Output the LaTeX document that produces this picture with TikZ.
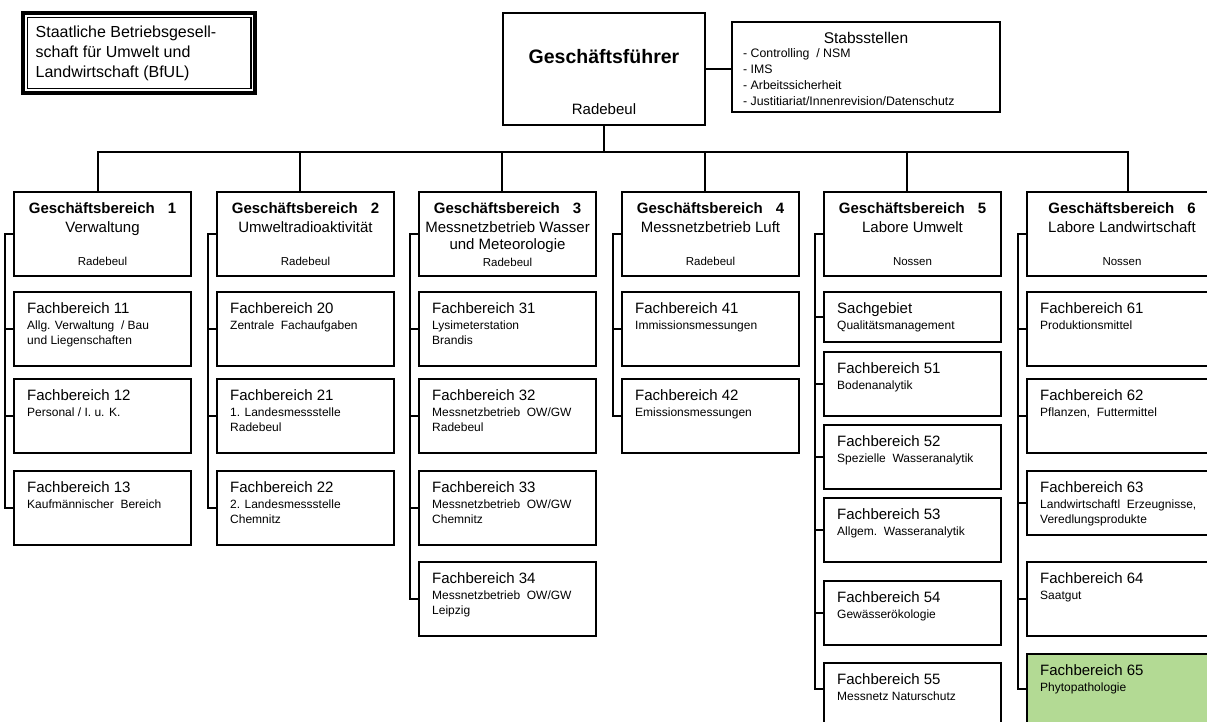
\documentclass[tikz,border=0pt]{standalone}
\usepackage{fontspec}
\setmainfont{Liberation Sans}
\definecolor{fbgreen}{RGB}{179,218,148}
\tikzset{
  box/.style={draw, line width=2pt, inner sep=0pt, outer sep=0pt, anchor=north west, fill=white},
  conn/.style={line width=2.2pt},
  fbt/.style={inner sep=0pt, font=\fontsize{15}{18}\selectfont},
  fbs/.style={inner sep=0pt, align=left, font=\fontsize{12}{15}\selectfont},
  gbt/.style={inner sep=0pt, font=\bfseries\fontsize{15}{18}\selectfont},
  gbm/.style={inner sep=0pt, font=\fontsize{15}{18}\selectfont},
  gbs/.style={inner sep=0pt, font=\fontsize{11.5}{14}\selectfont},
}
\newcommand\mkfb[8]{%
  \node[box, minimum width=#4pt, minimum height=#5pt, #8] (#1) at (#2,#3) {};
  \node[fbt, anchor=base west] (#1t) at ([shift={(13,21)}]#1.north west) {#6};
  \node[fbs, anchor=north west] (#1s) at ([shift={(13,28.5)}]#1.north west) {#7};
}
\newcommand\mkgb[5]{% name, x, w, number, place
  \node[box, minimum width=#3pt, minimum height=84pt] (#1) at (#2,192) {};
  \node[gbt, anchor=base] (#1t) at ([shift={(0,21.5)}]#1.north) {Geschäftsbereich\hspace{13pt}#4};
  \node[gbs, anchor=base] (#1p) at ([shift={(0,73)}]#1.north) {#5};
}
\begin{document}
\begin{tikzpicture}[x=1pt,y=-1pt]
\useasboundingbox (0,0) rectangle (1207,721);
\clip (0,0) rectangle (1207,721);

% top-left framed box
\node[draw, line width=4.3pt, inner sep=0pt, outer sep=0pt, anchor=north west,
      minimum width=232.2pt, minimum height=80pt] (bful) at (23,12.9) {};
\node[draw, line width=1.2pt, inner sep=0pt, outer sep=0pt, anchor=north west,
      minimum width=223.7pt, minimum height=71.4pt] (bfuli) at (27.3,17.2) {};
\node[inner sep=0pt, anchor=north west, align=left,
      font=\fontsize{16}{20}\selectfont] (bfult) at (35.5,26)
  {Staatliche Betriebsgesell-\\schaft für Umwelt und\\Landwirtschaft (BfUL)};

% Geschaeftsfuehrer
\node[box, minimum width=202pt, minimum height=112pt] (gf) at (503,13) {};
\node[inner sep=0pt, anchor=base, font=\bfseries\fontsize{19.5}{22}\selectfont] (gft) at ([shift={(0,50.8)}]gf.north) {Geschäftsführer};
\node[inner sep=0pt, anchor=base, font=\fontsize{15}{18}\selectfont] (gfp) at ([shift={(0,101.4)}]gf.north) {Radebeul};

% Stabsstellen
\node[box, minimum width=268pt, minimum height=90pt] (stab) at (732,22) {};
\node[inner sep=0pt, anchor=base, font=\fontsize{15.5}{18}\selectfont] (stabt) at ([shift={(0,21.6)}]stab.north) {Stabsstellen};
\node[inner sep=0pt, anchor=north west, align=left, font=\fontsize{12.3}{16}\selectfont] (stabl) at (743,48.2)
  {- Controlling\ \ / NSM\\- IMS\\- Arbeitssicherheit\\- Justitiariat/Innenrevision/Datenschutz};
\draw[conn] (gf.east) -- (gf.east -| stab.west);

% Geschaeftsbereiche
\mkgb{gb1}{14}{177}{1}{Radebeul}
\node[gbm, anchor=base] (gb1m) at ([shift={(0,40.5)}]gb1.north) {Verwaltung};
\mkgb{gb2}{217}{177}{2}{Radebeul}
\node[gbm, anchor=base] (gb2m) at ([shift={(0,40.5)}]gb2.north) {Umweltradioaktivität};
\node[box, minimum width=177pt, minimum height=84pt] (gb3) at (419,192) {};
\node[gbt, anchor=base] (gb3t) at ([shift={(0,21.5)}]gb3.north) {Geschäftsbereich\hspace{13pt}3};
\node[gbm, anchor=base] (gb3m) at ([shift={(0,40.5)}]gb3.north) {Messnetzbetrieb Wasser};
\node[gbm, anchor=base] (gb3n) at ([shift={(0,57.5)}]gb3.north) {und Meteorologie};
\node[gbs, anchor=base] (gb3p) at ([shift={(0,74)}]gb3.north) {Radebeul};
\mkgb{gb4}{622}{177}{4}{Radebeul}
\node[gbm, anchor=base] (gb4m) at ([shift={(0,40.5)}]gb4.north) {Messnetzbetrieb Luft};
\mkgb{gb5}{824}{177}{5}{Nossen}
\node[gbm, anchor=base] (gb5m) at ([shift={(0,40.5)}]gb5.north) {Labore Umwelt};
\mkgb{gb6}{1027}{190}{6}{Nossen}
\node[gbm, anchor=base] (gb6m) at ([shift={(0,40.5)}]gb6.north) {Labore Landwirtschaft};

% bus
\coordinate (d1) at (98,152);
\coordinate (d2) at (300,152);
\coordinate (d3) at (502,152);
\coordinate (d4) at (705,152);
\coordinate (d5) at (907,152);
\coordinate (d6) at (1128,152);
\draw[conn] (gf.south) -- (gf.south |- d1);
\draw[conn, line cap=rect] (d1) -- (d6);
\foreach \i in {1,...,6}{\draw[conn] (d\i) -- (d\i |- gb\i.north);}

% column 1
\mkfb{fb11}{14}{292}{177}{74}{Fachbereich 11}{Allg. Verwaltung\ \ / Bau\\und Liegenschaften}{}
\mkfb{fb12}{14}{379}{177}{74}{Fachbereich 12}{Personal / I. u. K.}{}
\mkfb{fb13}{14}{471}{177}{74}{Fachbereich 13}{Kaufmännischer\ \ Bereich}{}
% column 2
\mkfb{fb20}{217}{292}{177}{74}{Fachbereich 20}{Zentrale\ \ Fachaufgaben}{}
\mkfb{fb21}{217}{379}{177}{74}{Fachbereich 21}{1. Landesmessstelle\\Radebeul}{}
\mkfb{fb22}{217}{471}{177}{74}{Fachbereich 22}{2. Landesmessstelle\\Chemnitz}{}
% column 3
\mkfb{fb31}{419}{292}{177}{74}{Fachbereich 31}{Lysimeterstation\\Brandis}{}
\mkfb{fb32}{419}{379}{177}{74}{Fachbereich 32}{Messnetzbetrieb\ \ OW/GW\\Radebeul}{}
\mkfb{fb33}{419}{471}{177}{74}{Fachbereich 33}{Messnetzbetrieb\ \ OW/GW\\Chemnitz}{}
\mkfb{fb34}{419}{562}{177}{74}{Fachbereich 34}{Messnetzbetrieb\ \ OW/GW\\Leipzig}{}
% column 4
\mkfb{fb41}{622}{292}{177}{74}{Fachbereich 41}{Immissionsmessungen}{}
\mkfb{fb42}{622}{379}{177}{74}{Fachbereich 42}{Emissionsmessungen}{}
% column 5
\mkfb{sg5}{824}{292}{177}{50}{Sachgebiet}{Qualitätsmanagement}{}
\mkfb{fb51}{824}{352}{177}{64}{Fachbereich 51}{Bodenanalytik}{}
\mkfb{fb52}{824}{425}{177}{64}{Fachbereich 52}{Spezielle\ \ Wasseranalytik}{}
\mkfb{fb53}{824}{498}{177}{64}{Fachbereich 53}{Allgem.\ \ Wasseranalytik}{}
\mkfb{fb54}{824}{581}{177}{64}{Fachbereich 54}{Gewässerökologie}{}
\mkfb{fb55}{824}{663}{177}{80}{Fachbereich 55}{Messnetz Naturschutz}{}
% column 6
\mkfb{fb61}{1027}{292}{190}{74}{Fachbereich 61}{Produktionsmittel}{}
\mkfb{fb62}{1027}{379}{190}{74}{Fachbereich 62}{Pflanzen,\ \ Futtermittel}{}
\mkfb{fb63}{1027}{471}{190}{64}{Fachbereich 63}{Landwirtschaftl\ \ Erzeugnisse,\\Veredlungsprodukte}{}
\mkfb{fb64}{1027}{562}{190}{74}{Fachbereich 64}{Saatgut}{}
\mkfb{fb65}{1027}{654}{190}{80}{Fachbereich 65}{Phytopathologie}{fill=fbgreen}

% brackets
\draw[conn] (gb1.west) -- ++(-9,0) |- (fb13.west);
\foreach \n in {fb11,fb12}{\draw[conn] (\n.west) -- ++(-9,0);}
\draw[conn] (gb2.west) -- ++(-9,0) |- (fb22.west);
\foreach \n in {fb20,fb21}{\draw[conn] (\n.west) -- ++(-9,0);}
\draw[conn] (gb3.west) -- ++(-9,0) |- (fb34.west);
\foreach \n in {fb31,fb32,fb33}{\draw[conn] (\n.west) -- ++(-9,0);}
\draw[conn] (gb4.west) -- ++(-9,0) |- (fb42.west);
\draw[conn] (fb41.west) -- ++(-9,0);
\draw[conn] (gb5.west) -- ++(-9,0) |- ([shift={(0,26)}]fb55.north west);
\foreach \n in {sg5,fb51,fb52,fb53,fb54}{\draw[conn] (\n.west) -- ++(-9,0);}
\draw[conn] (gb6.west) -- ++(-9,0) |- ([shift={(0,35)}]fb65.north west);
\foreach \n in {fb61,fb62,fb63,fb64}{\draw[conn] (\n.west) -- ++(-9,0);}
\end{tikzpicture}
\end{document}
